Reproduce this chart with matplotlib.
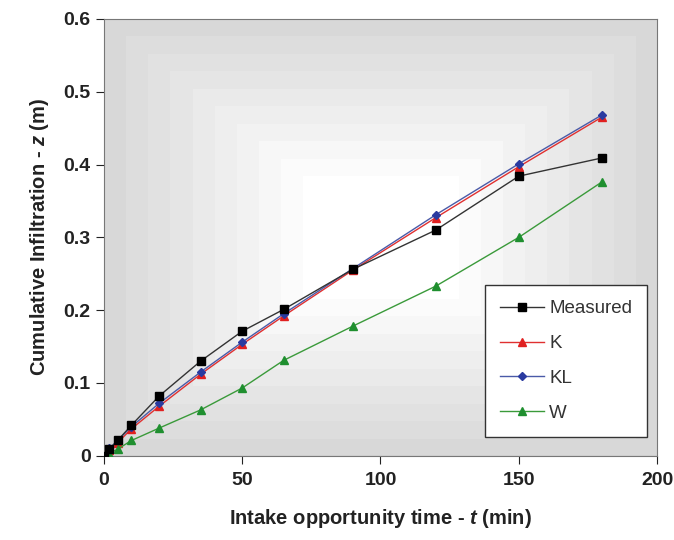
import matplotlib
matplotlib.use("Agg")
import matplotlib.pyplot as plt
import numpy as np

plt.rcParams['font.family'] = ['Liberation Sans', 'DejaVu Sans']
plt.rcParams['mathtext.fontset'] = 'custom'
plt.rcParams['mathtext.it'] = 'Liberation Sans:italic:bold'

# data
time_min = [0, 2, 5, 10, 20, 35, 50, 65, 90, 120, 150, 180]
measured = [0.0, 0.009, 0.021, 0.042, 0.082, 0.130, 0.171, 0.201, 0.256, 0.310, 0.384, 0.409]
k_model = [0.0, 0.008, 0.018, 0.037, 0.068, 0.112, 0.153, 0.192, 0.255, 0.327, 0.397, 0.465]
kl_model = [0.0, 0.010, 0.021, 0.040, 0.072, 0.115, 0.156, 0.195, 0.257, 0.331, 0.401, 0.468]
w_model = [0.0, 0.003, 0.009, 0.021, 0.038, 0.063, 0.093, 0.131, 0.178, 0.233, 0.300, 0.376]

fig = plt.figure(figsize=(6.74, 5.4), dpi=100)
ax = fig.add_axes([0.154, 0.156, 0.821, 0.809])

# banded rectangular gradient background, white in the middle
nx, ny = 400, 300
gx = np.linspace(0, 200, nx)
gy = np.linspace(0, 0.6, ny)
X, Y = np.meshgrid(gx, gy)
d = np.maximum(np.abs(X - 100) / 100, np.abs(Y - 0.3) / 0.3)
d = np.clip((d - 0.2) / 0.8, 0, 1)
d = np.floor(d * 10) / 10
bg = 1.0 - 0.17 * d
ax.imshow(bg, extent=[0, 200, 0, 0.6], origin="lower", cmap="gray",
          vmin=0, vmax=1, aspect="auto", zorder=0, interpolation="nearest")

ax.plot(time_min, measured, color="#333333", lw=1, marker="s", ms=6,
        mfc="black", mec="black", label="Measured", zorder=5)
ax.plot(time_min, k_model, color="#e03030", lw=1, marker="^", ms=6,
        mfc="#e02020", mec="#e02020", label="K", zorder=3)
ax.plot(time_min, kl_model, color="#4a5aa8", lw=1, marker="D", ms=4.5,
        mfc="#2a3aa0", mec="#2a3aa0", label="KL", zorder=4)
ax.plot(time_min, w_model, color="#3a9a3a", lw=1, marker="^", ms=6,
        mfc="#1f8f2f", mec="#1f8f2f", label="W", zorder=3)

ax.set_xlim(0, 200)
ax.set_ylim(0, 0.6)
ax.set_xticks([0, 50, 100, 150, 200])
ax.set_yticks([0, 0.1, 0.2, 0.3, 0.4, 0.5, 0.6])
ax.set_yticklabels(["0", "0.1", "0.2", "0.3", "0.4", "0.5", "0.6"])
ax.tick_params(direction="out", length=6, labelsize=14, colors="#222222")
ax.tick_params(axis="x", pad=6)
for lab in ax.get_xticklabels() + ax.get_yticklabels():
    lab.set_fontweight("bold")
for s in ax.spines.values():
    s.set_color("#777777")

ax.set_xlabel(r"Intake opportunity time - $\it{t}$ (min)",
              fontsize=14.5, fontweight="bold", labelpad=13, color="#222222")
ax.set_ylabel(r"Cumulative Infiltration - $\it{z}$ (m)",
              fontsize=14.5, fontweight="bold", labelpad=9, color="#222222")

leg = ax.legend(loc="lower right", bbox_to_anchor=(0.982, 0.043), borderaxespad=0,
                fontsize=13.5, frameon=True, fancybox=False, edgecolor="#333333",
                borderpad=0.8, labelspacing=0.95, handlelength=2.3, handletextpad=0.3)
leg.get_frame().set_facecolor("white")
leg.get_frame().set_alpha(1)
leg.get_frame().set_linewidth(1)
for txt in leg.get_texts():
    txt.set_color("#333333")

fig.savefig("out.png", dpi=100)
